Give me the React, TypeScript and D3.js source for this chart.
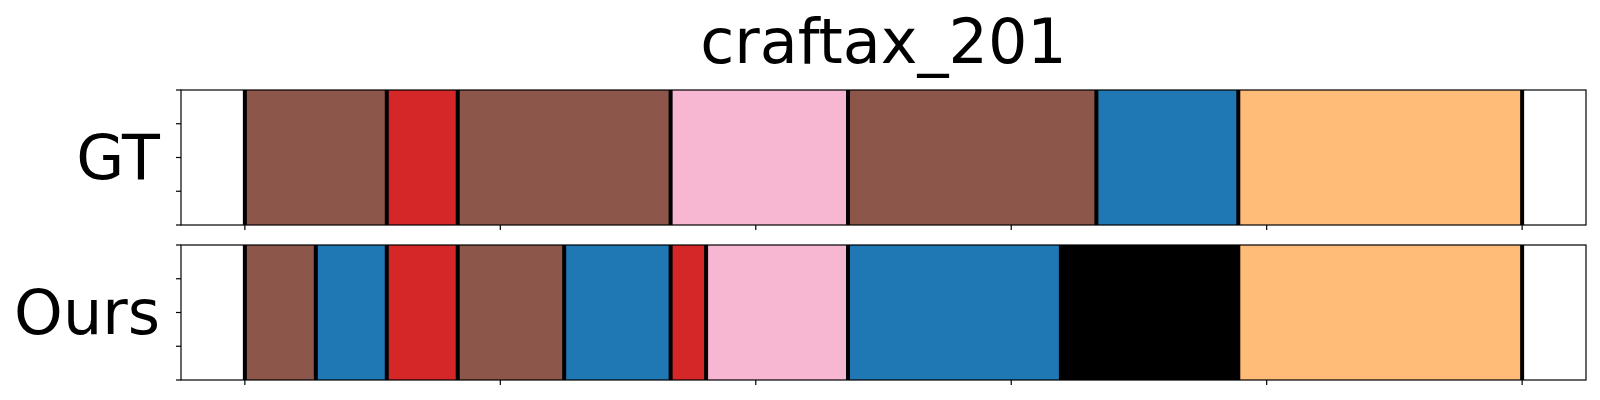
import React from "react";
import { scaleLinear } from "d3";

// frame counts per segment, 36 frames total
const TOTAL_FRAMES = 36;
const gtLabels = ["brown", "red", "brown", "pink", "brown", "blue", "orange"];
const gtLengths = [4, 2, 6, 5, 7, 4, 8];
const oursLabels = ["brown", "blue", "red", "brown", "blue", "red", "pink", "blue", "black", "orange"];
const oursLengths = [2, 2, 2, 3, 3, 1, 4, 6, 5, 8];
const rowNames = ["GT", "Ours"];
const xTicks = [0, 0.2, 0.4, 0.6, 0.8, 1.0];
const yTicks = [0, 0.25, 0.5, 0.75, 1];

const colors: Record<string, string> = {
  brown: "#8c564b",
  red: "#d62728",
  pink: "#f7b6d2",
  blue: "#1f77b4",
  orange: "#ffbb78",
  black: "#000000",
};

const W = 1600;
const H = 400;
const left = 181;
const right = 1586;
const panels = [
  { top: 90, bottom: 225 },
  { top: 245, bottom: 380 },
];

function toSegments(labels: string[], lengths: number[]) {
  let start = 0;
  return labels.map((label, i) => {
    const seg = { label, start, end: start + lengths[i] };
    start += lengths[i];
    return seg;
  });
}

function App() {
  const rows = [toSegments(gtLabels, gtLengths), toSegments(oursLabels, oursLengths)];
  const x = scaleLinear().domain([-0.05, 1.05]).range([left, right]);
  const font = "'DejaVu Sans', sans-serif";

  return (
    <svg
      width={W}
      height={H}
      style={{ position: "absolute", left: 0, top: 0, background: "#fff" }}
    >
      <text x={(left + right) / 2} y={63} fontSize={62} fontFamily={font} textAnchor="middle">
        craftax_201
      </text>
      {rows.map((segs, r) => {
        const { top, bottom } = panels[r];
        const y = scaleLinear().domain([0, 1]).range([bottom, top]);
        // boundary lines at every segment start plus the final end
        const lines = segs.map((s) => s.start).concat([TOTAL_FRAMES]);
        return (
          <g key={r}>
            {segs.map((s, i) => (
              <rect
                key={i}
                x={x(s.start / TOTAL_FRAMES)}
                y={top}
                width={x(s.end / TOTAL_FRAMES) - x(s.start / TOTAL_FRAMES)}
                height={bottom - top}
                fill={colors[s.label]}
              />
            ))}
            {lines.map((f, i) => (
              <line
                key={i}
                x1={x(f / TOTAL_FRAMES)}
                x2={x(f / TOTAL_FRAMES)}
                y1={top}
                y2={bottom}
                stroke="#000"
                strokeWidth={4}
              />
            ))}
            <rect
              x={left}
              y={top}
              width={right - left}
              height={bottom - top}
              fill="none"
              stroke="#000"
              strokeWidth={1.2}
            />
            {yTicks.map((t) => (
              <line key={t} x1={left - 5} x2={left} y1={y(t)} y2={y(t)} stroke="#000" strokeWidth={1.2} />
            ))}
            {xTicks.map((t) => (
              <line key={t} x1={x(t)} x2={x(t)} y1={bottom} y2={bottom + 5} stroke="#000" strokeWidth={1.2} />
            ))}
            <text
              x={160}
              y={(top + bottom) / 2}
              fontSize={62}
              fontFamily={font}
              textAnchor="end"
              dominantBaseline="central"
            >
              {rowNames[r]}
            </text>
          </g>
        );
      })}
    </svg>
  );
}

export default App;
